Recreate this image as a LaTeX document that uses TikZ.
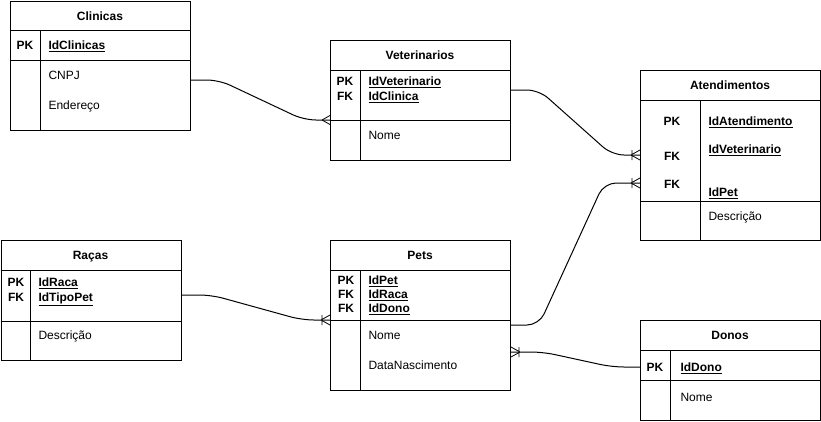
\documentclass[tikz,border=0pt]{standalone}
\usepackage{fontspec}
\setmainfont{Liberation Sans}
\usetikzlibrary{calc}
\begin{document}
\begin{tikzpicture}[x=1pt,y=-1pt,line width=1pt,
  tbl/.style={draw,minimum width=180pt,inner sep=0pt,anchor=north west},
  ttl/.style={font=\fontsize{12}{14}\selectfont\bfseries,inner sep=0pt,text height=9pt,text depth=0pt},
  keylbl/.style={font=\fontsize{12}{14}\selectfont\bfseries,inner sep=0pt,text height=9pt,text depth=0pt},
  keyfld/.style={anchor=west,font=\fontsize{12}{14}\selectfont\bfseries,inner sep=0pt,text height=9pt,text depth=0pt},
  fld/.style={anchor=west,font=\fontsize{12}{14}\selectfont,inner sep=0pt,text height=9pt,text depth=0pt},
  conn/.style={draw,rounded corners=12pt},
  crowmany/.pic={\draw[line width=0.8pt] (-8,0) -- (0,-4.5) (-8,0) -- (0,4.5);},
  crowone/.pic={\draw[line width=0.8pt] (-9,0) -- (0,-5) (-9,0) -- (0,5) (-8,-5) -- (-8,5);}
]
\useasboundingbox (0,0) rectangle (821,421);

\newcommand\ertable[7]{%
  \node[tbl,minimum height=#4pt] (#1) at (#2,#3) {};
  \draw (#2,#3+30) -- (#2+180,#3+30);
  \draw (#2,#5) -- (#2+180,#5);
  \draw (#6,#3+30) -- (#6,#3+#4);
  \node[ttl] (#1-title) at (#2+90,#3+15) {#7};
}

\ertable{clin}{10}{0.5}{129}{60}{40}{Clinicas}
\ertable{vet}{330}{40}{120}{120}{360}{Veterinarios}
\ertable{aten}{640}{70}{170}{201}{700}{Atendimentos}
\ertable{raca}{0.5}{240}{120}{321}{30}{Raças}
\ertable{pets}{330}{240}{150}{320}{360}{Pets}
\ertable{donos}{640}{320}{100}{380}{670}{Donos}

% Clinicas
\node[keylbl] (clin-pk) at (25,45) {PK};
\node[keyfld] (clin-id) at (48,45) {\underline{IdClinicas}};
\node[fld] (clin-cnpj) at (48,75) {CNPJ};
\node[fld] (clin-end) at (48,105) {Endereço};

% Veterinarios
\node[keylbl] (vet-pk) at (345,81) {PK};
\node[keylbl] (vet-fk) at (345,96) {FK};
\node[keyfld] (vet-id) at (368,81) {\underline{IdVeterinario}};
\node[keyfld] (vet-cl) at (368,96) {\underline{IdClinica}};
\node[fld] (vet-nome) at (368,135) {Nome};

% Atendimentos
\node[keylbl] (aten-pk) at (672,121) {PK};
\node[keylbl] (aten-fk1) at (672,156) {FK};
\node[keylbl] (aten-fk2) at (672,184) {FK};
\node[keyfld] (aten-id) at (708,121) {\underline{IdAtendimento}};
\node[keyfld] (aten-vet) at (708,149) {\underline{IdVeterinario}};
\node[keyfld] (aten-pet) at (708,192) {\underline{IdPet}};
\node[fld] (aten-desc) at (708,216) {Descrição};

% Racas
\node[keylbl] (raca-pk) at (16,282) {PK};
\node[keylbl] (raca-fk) at (16,297) {FK};
\node[keyfld] (raca-id) at (38,282) {\underline{IdRaca}};
\node[keyfld] (raca-tp) at (38,297) {\underline{IdTipoPet}};
\node[fld] (raca-desc) at (38,335) {Descrição};

% Pets
\node[keylbl] (pets-pk) at (346,280) {PK};
\node[keylbl] (pets-fk1) at (346,294) {FK};
\node[keylbl] (pets-fk2) at (346,308) {FK};
\node[keyfld] (pets-id) at (368,280) {\underline{IdPet}};
\node[keyfld] (pets-raca) at (368,294) {\underline{IdRaca}};
\node[keyfld] (pets-dono) at (368,308) {\underline{IdDono}};
\node[fld] (pets-nome) at (368,335) {Nome};
\node[fld] (pets-dn) at (368,365) {DataNascimento};

% Donos
\node[keylbl] (donos-pk) at (655,367) {PK};
\node[keyfld] (donos-id) at (680,367) {\underline{IdDono}};
\node[fld] (donos-nome) at (680,397) {Nome};

% connector end points on the tables
\coordinate (c1s) at ($(clin.north east)+(0,79.5)$);
\coordinate (c1e) at ($(vet.north west)+(0,80)$);
\coordinate (c2s) at ($(vet.north east)+(0,50)$);
\coordinate (c2e) at ($(aten.north west)+(0,85)$);
\coordinate (c3s) at ($(pets.north east)+(0,85)$);
\coordinate (c3e) at ($(aten.north west)+(0,113)$);
\coordinate (c4s) at ($(raca.north east)+(0,55)$);
\coordinate (c4e) at ($(pets.north west)+(0,80)$);
\coordinate (c5s) at ($(donos.north west)+(0,47)$);
\coordinate (c5e) at ($(pets.north east)+(0,112)$);

\draw[conn] (c1s) -- ++(28,0) -- ($(c1e)+(-26,0)$) -- (c1e);
\pic at (c1e) {crowmany};

\draw[conn] (c2s) -- ++(28,0) -- ($(c2e)+(-28,0)$) -- (c2e);
\pic at (c2e) {crowone};

\draw[conn] (c3s) -- ++(28,0) -- ($(c3e)+(-36,0)$) -- (c3e);
\pic at (c3e) {crowone};

\draw[conn] (c4s) -- ++(30,0) -- ($(c4e)+(-28,0)$) -- (c4e);
\pic at (c4e) {crowone};

\draw[conn] (c5s) -- ++(-28,0) -- ($(c5e)+(32,0)$) -- (c5e);
\pic[rotate=180] at (c5e) {crowone};
\end{tikzpicture}
\end{document}
